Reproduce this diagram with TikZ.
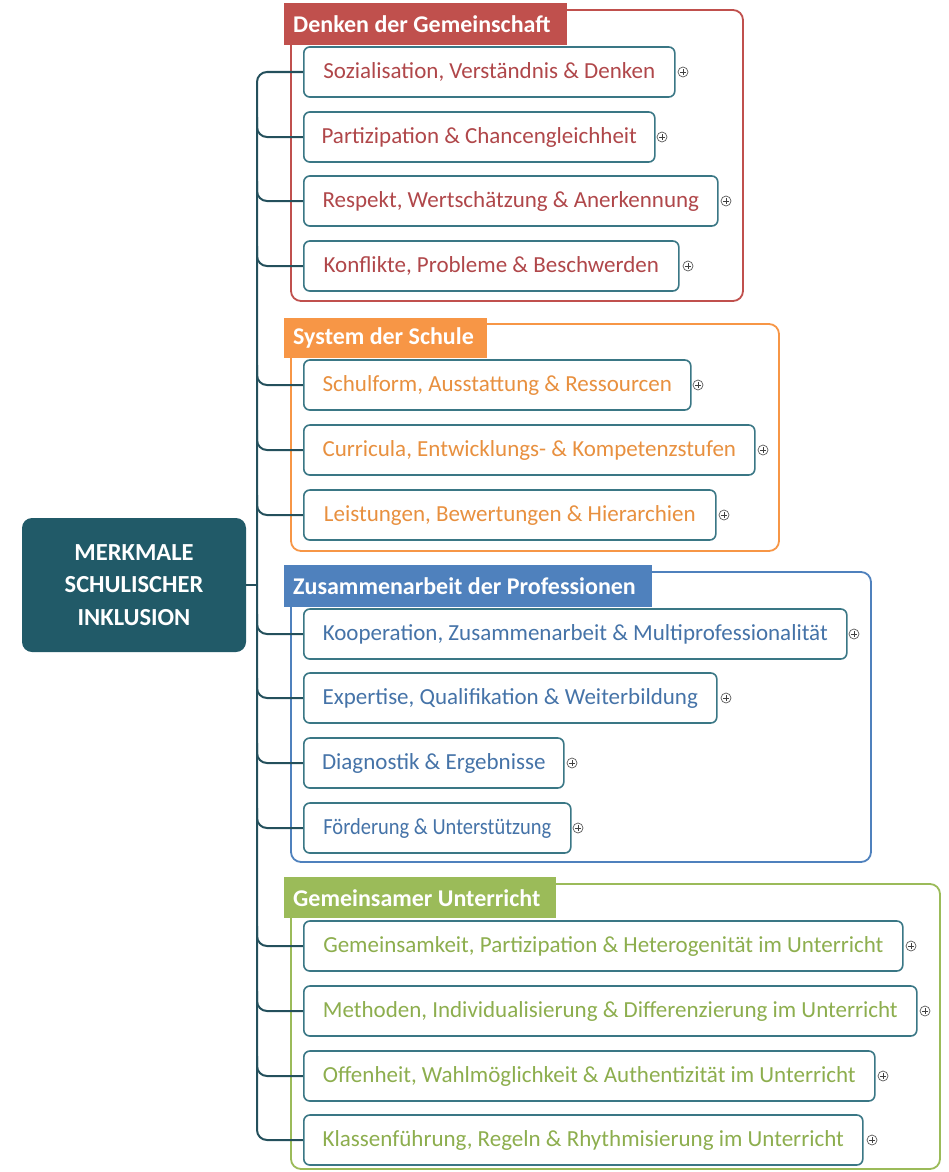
\documentclass[tikz,border=0pt]{standalone}
\usepackage{fontspec}
\setmainfont{Carlito}
\definecolor{itemb}{HTML}{3A7785}
\definecolor{connc}{HTML}{24505C}
\definecolor{centerfill}{HTML}{215A68}
\definecolor{gred}{HTML}{C0504D}
\definecolor{tred}{HTML}{B0474A}
\definecolor{gorange}{HTML}{F79646}
\definecolor{torange}{HTML}{E8903F}
\definecolor{gblue}{HTML}{4F81BD}
\definecolor{tblue}{HTML}{4573A8}
\definecolor{ggreen}{HTML}{9BBB59}
\definecolor{tgreen}{HTML}{8DAE4E}
\tikzset{
  itembox/.style={draw=itemb, line width=1.6pt, rounded corners=6pt, fill=white,
    minimum height=50pt, anchor=west, inner sep=0pt,
    font=\fontsize{23}{26}\selectfont},
  plusnode/.style={circle, draw=gray!70!black, line width=0.7pt, minimum size=10pt, inner sep=0pt,
    path picture={\draw[gray!50!black, line width=0.7pt]
      ([xshift=-2.6pt]path picture bounding box.center) -- ([xshift=2.6pt]path picture bounding box.center)
      ([yshift=-2.6pt]path picture bounding box.center) -- ([yshift=2.6pt]path picture bounding box.center);}},
  tabnode/.style={anchor=north west, inner xsep=9pt, inner ysep=0pt, text=white,
    font=\bfseries\fontsize{24}{27}\selectfont},
  framebox/.style={line width=1.8pt, rounded corners=10pt},
  conn/.style={draw=connc, line width=2pt, rounded corners=10pt},
}
\begin{document}
\begin{tikzpicture}[x=1pt,y=-1pt]
\useasboundingbox (0,0) rectangle (948,1172);
\coordinate (trunk) at (257,0);
% frames
\draw[framebox, draw=gred] (291,10) rectangle (743,301);
\draw[framebox, draw=gorange] (291,324) rectangle (779,551);
\draw[framebox, draw=gblue] (291,572) rectangle (871,862);
\draw[framebox, draw=ggreen] (291,884) rectangle (940,1169);
% center
\node[fill=centerfill, rounded corners=10pt, minimum width=224pt, minimum height=134pt,
  text=white, align=center, font=\bfseries\fontsize{24.5}{32.5}\selectfont] (center) at (134,585)
  {MERKMALE\\SCHULISCHER\\INKLUSION};
% connectors (drawn before items)
\coordinate (c1) at (303,72);
\coordinate (c15) at (303,1140);
\draw[conn] (c1) -| (c15 -| trunk) -- (c15);
\draw[conn, rounded corners=0pt] (center.east) -- (center.east -| trunk);
\foreach \yy in {137,201,266,385,450,515,634,698,763,828,946,1011,1076} {
  \coordinate (cc) at (303,\yy);
  \draw[conn] ([yshift=20pt]cc -| trunk) |- (cc);
}
% items group 1
\node[itembox, text=tred, minimum width=371pt] (i1) at (303,72) {Sozialisation, Verständnis \& Denken};
\node[itembox, text=tred, minimum width=351pt] (i2) at (303,137) {Partizipation \& Chancengleichheit};
\node[itembox, text=tred, minimum width=414pt] (i3) at (303,201) {Respekt, Wertschätzung \& Anerkennung};
\node[itembox, text=tred, minimum width=375pt] (i4) at (303,266) {Konflikte, Probleme \& Beschwerden};
% group 2
\node[itembox, text=torange, minimum width=387pt] (i5) at (303,385) {Schulform, Ausstattung \& Ressourcen};
\node[itembox, text=torange, minimum width=451pt] (i6) at (303,450) {Curricula, Entwicklungs- \& Kompetenzstufen};
\node[itembox, text=torange, minimum width=412pt] (i7) at (303,515) {Leistungen, Bewertungen \& Hierarchien};
% group 3
\node[itembox, text=tblue, minimum width=543pt] (i8) at (303,634) {Kooperation, Zusammenarbeit \& Multiprofessionalität};
\node[itembox, text=tblue, minimum width=413pt] (i9) at (303,698) {Expertise, Qualifikation \& Weiterbildung};
\node[itembox, text=tblue, minimum width=260pt] (i10) at (303,763) {Diagnostik \& Ergebnisse};
\node[itembox, text=tblue, minimum width=267pt] (i11) at (303,828) {\scalebox{0.89}[1]{Förderung \& Unterstützung}};
% group 4
\node[itembox, text=tgreen, minimum width=599pt] (i12) at (303,946) {Gemeinsamkeit, Partizipation \& Heterogenität im Unterricht};
\node[itembox, text=tgreen, minimum width=613pt] (i13) at (303,1011) {Methoden, Individualisierung \& Differenzierung im Unterricht};
\node[itembox, text=tgreen, minimum width=571pt] (i14) at (303,1076) {Offenheit, Wahlmöglichkeit \& Authentizität im Unterricht};
\node[itembox, text=tgreen, minimum width=559pt] (i15) at (303,1140) {Klassenführung, Regeln \& Rhythmisierung im Unterricht};
% plus markers
\node[plusnode] (p1) at (683,72) {};
\node[plusnode] (p2) at (662,137) {};
\node[plusnode] (p3) at (726,201) {};
\node[plusnode] (p4) at (688,266) {};
\node[plusnode] (p5) at (698,385) {};
\node[plusnode] (p6) at (763,450) {};
\node[plusnode] (p7) at (724,515) {};
\node[plusnode] (p8) at (854,634) {};
\node[plusnode] (p9) at (726,698) {};
\node[plusnode] (p10) at (572,763) {};
\node[plusnode] (p11) at (578,828) {};
\node[plusnode] (p12) at (911,946) {};
\node[plusnode] (p13) at (925,1011) {};
\node[plusnode] (p14) at (883,1076) {};
\node[plusnode] (p15) at (872,1140) {};
% tabs
\node[tabnode, fill=gred, minimum height=42pt] (t1) at (284,3) {\makebox[265pt][l]{Denken der Gemeinschaft}};
\node[tabnode, fill=gorange, minimum height=40pt] (t2) at (284,318) {\makebox[185pt][l]{System der Schule}};
\node[tabnode, fill=gblue, minimum height=42pt] (t3) at (284,565) {\makebox[350pt][l]{Zusammenarbeit der Professionen}};
\node[tabnode, fill=ggreen, minimum height=41pt] (t4) at (284,877) {\makebox[254pt][l]{Gemeinsamer Unterricht}};
\end{tikzpicture}
\end{document}
